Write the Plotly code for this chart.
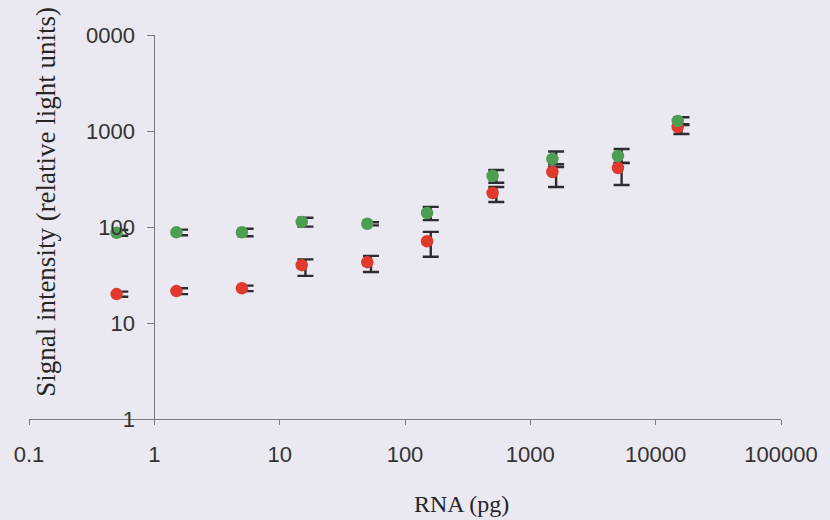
import plotly.graph_objects as go

# RNA amount per spot (pg)
rna_pg = [0.5, 1.5, 5, 15, 50, 150, 500, 1500, 5000, 15000]

# Signal intensity, two channels
green_signal = [87, 88, 88, 113, 108, 140, 341, 511, 550, 1270]
green_err_up = [6, 6, 8, 12, 4, 22, 52, 100, 100, 120]
green_err_dn = [6, 6, 8, 12, 4, 22, 52, 60, 85, 120]

red_signal = [20, 21.5, 23, 40, 43, 71, 226, 374, 412, 1100]
red_err_up = [1.2, 1.5, 1.5, 6, 7, 18, 35, 48, 52, 75]
red_err_dn = [1.2, 1.5, 1.5, 9, 9, 22, 44, 113, 138, 170]

y_tickvals = [1, 10, 100, 1000, 10000]
y_ticktext = ["1", "10", "100", "1000", "0000"]
x_tickvals = [0.1, 1, 10, 100, 1000, 10000, 100000]
x_ticktext = ["0.1", "1", "10", "100", "1000", "10000", "100000"]

BG = "#EAE8F0"
GREEN = "#4E9E52"
RED = "#E0392E"
ERR = "#2E2C30"
AXIS = "#7A787E"
SERIF = "Liberation Serif, Times New Roman, serif"

W, H = 830, 520
L, R, T, B = 29, 43, 35, 101
PW, PH = W - L - R, H - T - B

fig = go.Figure()

# error bars, nudged slightly right of the markers
shift = 1.07
for sig, up, dn in [(red_signal, red_err_up, red_err_dn),
                    (green_signal, green_err_up, green_err_dn)]:
    fig.add_trace(go.Scatter(
        x=[v * shift for v in rna_pg], y=sig, mode="markers",
        marker=dict(size=1, color="rgba(0,0,0,0)"),
        error_y=dict(type="data", symmetric=False, array=up, arrayminus=dn,
                     color=ERR, thickness=2.4, width=8),
        hoverinfo="skip", showlegend=False,
    ))

fig.add_trace(go.Scatter(
    x=rna_pg, y=red_signal, mode="markers", name="Cy5",
    marker=dict(size=12.5, color=RED, line=dict(width=0)), showlegend=False,
))
fig.add_trace(go.Scatter(
    x=rna_pg, y=green_signal, mode="markers", name="Cy3",
    marker=dict(size=12.5, color=GREEN, line=dict(width=0)), showlegend=False,
))

annotations = [
    dict(
        x=(46 - L) / PW, y=(H - B - 202) / PH, xref="paper", yref="paper",
        text="Signal intensity (relative light units)", textangle=-90,
        showarrow=False, xanchor="center", yanchor="middle",
        font=dict(family=SERIF, size=27, color="#262626"),
    ),
    dict(
        x=(465 - L) / PW, y=(H - B - 504) / PH, xref="paper", yref="paper",
        text="RNA (pg)", showarrow=False, xanchor="center", yanchor="middle",
        font=dict(family=SERIF, size=24, color="#262626"),
    ),
]

fig.update_layout(
    width=W, height=H,
    margin=dict(l=L, r=R, t=T, b=B),
    paper_bgcolor=BG, plot_bgcolor=BG,
    annotations=annotations,
    xaxis=dict(
        type="log", range=[-1, 5], domain=[0, 1],
        tickvals=x_tickvals, ticktext=x_ticktext,
        showgrid=False, zeroline=False,
        showline=True, linecolor=AXIS, linewidth=1,
        ticks="outside", ticklen=5, tickcolor=AXIS,
        tickfont=dict(family="Liberation Sans", size=22, color="#333333"),
        ticklabelstandoff=11,
    ),
    yaxis=dict(
        type="log", range=[0, 4], domain=[0, 1],
        anchor="free", position=1 / 6,
        tickvals=y_tickvals, ticktext=y_ticktext,
        showgrid=False, zeroline=False,
        showline=True, linecolor=AXIS, linewidth=1,
        ticks="outside", ticklen=7, tickcolor=AXIS,
        tickfont=dict(family="Liberation Sans", size=22, color="#333333"),
        ticklabelstandoff=8,
    ),
)

fig.write_html("out.html")
